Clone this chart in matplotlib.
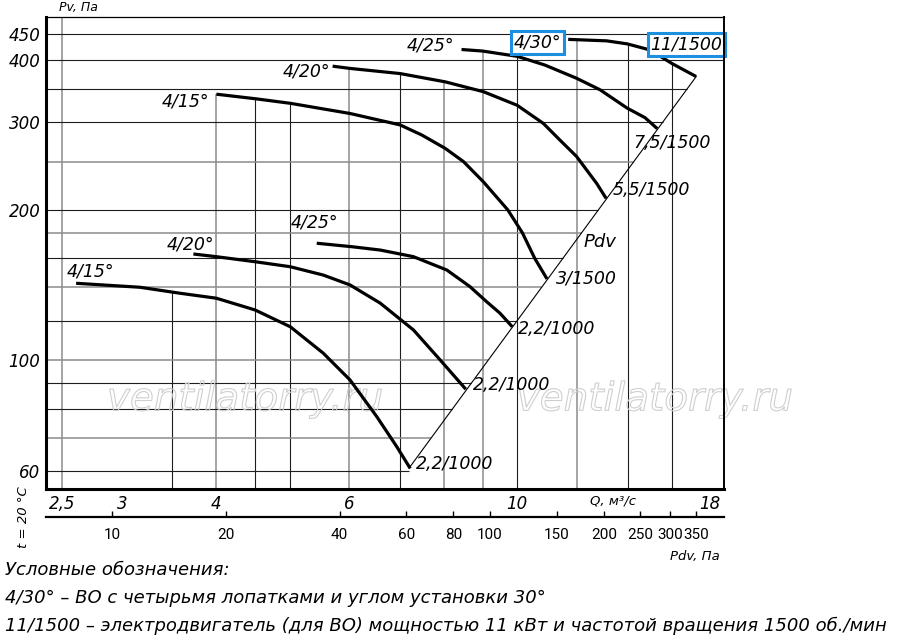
import numpy as np
import matplotlib
matplotlib.use("Agg")
import matplotlib.pyplot as plt
import matplotlib.patheffects as pe
from matplotlib.ticker import NullLocator

# Fan curves: Q, m3/s and Pv, Pa
# 1500 rpm
q_1500_15 = [4.00, 4.50, 5.01, 6.01, 7.00, 7.48, 8.03, 8.49, 9.02, 9.72, 10.16, 10.55, 10.95]
pv_1500_15 = [341, 334, 327, 312, 296, 282.5, 265.7, 250, 227.8, 200, 180, 160, 145.6]
q_1500_20 = [5.70, 6.01, 7.00, 8.03, 9.02, 10.0, 10.83, 11.39, 11.98, 12.74, 13.11]
pv_1500_20 = [388, 384, 375, 361, 345, 324, 298, 276, 256, 226, 211]
q_1500_25 = [8.44, 9.00, 10.0, 10.88, 11.98, 12.87, 13.97, 14.76, 15.32]
pv_1500_25 = [419, 416, 406, 390, 367, 348, 320, 306, 291]
q_1500_30 = [11.68, 13.13, 13.98, 14.99, 16.01, 17.24]
pv_1500_30 = [439, 436, 430, 418, 393, 370]
# 1000 rpm
q_1000_15 = [2.61, 3.17, 3.58, 4.00, 4.50, 5.01, 5.54, 6.01, 6.52, 6.93, 7.22]
pv_1000_15 = [142.7, 140.1, 136.3, 133.2, 126.2, 116.8, 103.4, 91.4, 77.2, 67.2, 60.8]
q_1000_20 = [3.73, 4.00, 4.50, 5.01, 5.54, 6.01, 6.59, 7.29, 7.91, 8.55]
pv_1000_20 = [163.3, 161.3, 157.6, 154.0, 148.2, 141.6, 130.2, 115.1, 100.2, 87.6]
q_1000_25 = [5.43, 6.04, 6.59, 7.29, 8.07, 8.66, 9.11, 9.49, 9.85]
pv_1000_25 = [171.6, 168.9, 166.3, 161.3, 151.7, 140.5, 131.1, 124.3, 116.8]

# Pdv line (dynamic pressure) through the curve ends
q_pdv = [7.20, 17.25]
p_pdv = [61, 370]
PDV_K = 1.18  # Pdv = k * Q^2, for the lower Pdv scale

curves = [
    (q_1500_15, pv_1500_15), (q_1500_20, pv_1500_20),
    (q_1500_25, pv_1500_25), (q_1500_30, pv_1500_30),
    (q_1000_15, pv_1000_15), (q_1000_20, pv_1000_20),
    (q_1000_25, pv_1000_25),
]

# Axes ticks / grid
q_ticks = [2.5, 3, 4, 6, 10, 18]
q_tick_labels = ["2,5", "3", "4", "6", "10", "18"]
pv_ticks = [60, 100, 200, 300, 400, 450]
pdv_ticks = [10, 20, 40, 60, 80, 100, 150, 200, 250, 300, 350]
q_grid = [2.5, 3.5, 4, 4.5, 5, 6, 7, 8, 9, 10, 12, 14, 16]
pv_grid = [60, 70, 80, 90, 100, 120, 140, 160, 180, 200, 250, 300, 350, 400, 450]
q_grid_gray = [2.5, 4, 6, 8, 9, 12]
pv_grid_gray = [70, 100, 140, 180, 250]

Q_LIM = (2.381, 18.77)
P_LIM = (55.3, 486.6)

# Curve labels: (text, Q, Pv)
angle_labels = [
    ("4/15°", 3.64, 330), ("4/20°", 5.27, 379), ("4/25°", 7.67, 426),
    ("4/15°", 2.73, 151), ("4/20°", 3.70, 171), ("4/25°", 5.40, 189),
]
motor_labels = [
    ("7,5/1500", 14.23, 272), ("5,5/1500", 13.39, 219), ("3/1500", 11.26, 146),
    ("2,2/1000", 10.02, 115.6), ("2,2/1000", 8.74, 89.3), ("2,2/1000", 7.35, 62.1),
]

BLUE = "#1b8fe0"
NARROW = ["Roboto", "DejaVu Sans"]
plt.rcParams["font.family"] = ["DejaVu Sans"]

fig = plt.figure(figsize=(9, 6.4), dpi=100)
ax = fig.add_axes([0.0511, 0.2359, 0.7533, 0.7375])
ax.set_xscale("log")
ax.set_yscale("log")
ax.set_xlim(*Q_LIM)
ax.set_ylim(*P_LIM)


def log_interp(x, xs, ys):
    return np.exp(np.interp(np.log(x), np.log(xs), np.log(ys)))


def top_at(q):
    # vertical grid lines stop at the highest curve above them
    tops = [log_interp(q, cq, cp) for cq, cp in curves if cq[0] <= q <= cq[-1]]
    return max(tops) if tops else P_LIM[1]


def right_at(p):
    # horizontal grid lines stop at the Pdv line
    if p > p_pdv[-1]:
        return Q_LIM[1]
    return log_interp(p, p_pdv, q_pdv)


for q in q_grid:
    gray = q in q_grid_gray
    ax.vlines(q, P_LIM[0], top_at(q), color="#8c8c8c" if gray else "#1e1e1e",
              lw=1.1 if gray else 0.8, zorder=1)
for p in pv_grid:
    gray = p in pv_grid_gray
    ax.hlines(p, Q_LIM[0], right_at(p), color="#8c8c8c" if gray else "#1e1e1e",
              lw=1.1 if gray else 0.8, zorder=1)

# watermark
for xf in (0.2935, 0.898):
    ax.text(xf, 0.19, "ventilatorry.ru", transform=ax.transAxes, ha="center",
            va="center", fontsize=28, style="italic", color="none", zorder=2,
            path_effects=[pe.Stroke(linewidth=0.8, foreground="#cfcfcf")])

for cq, cp in curves:
    ax.plot(cq, cp, color="black", lw=2.3, solid_capstyle="butt",
            solid_joinstyle="round", zorder=4)
ax.plot(q_pdv, p_pdv, color="black", lw=0.8, zorder=3)

for text, q, p in angle_labels:
    ax.text(q, p, text, ha="center", va="center", fontsize=12.5, style="italic", zorder=5)
for text, q, p in motor_labels:
    ax.text(q, p, text, ha="left", va="center", fontsize=12.5, style="italic", zorder=5)
ax.text(12.22, 172.6, "Pdv", ha="left", va="center", fontsize=13, style="italic", zorder=5)

box = dict(boxstyle="square,pad=0.15", fc="white", ec=BLUE, lw=2.2)
ax.text(10.65, 433, "4/30°", ha="center", va="center", fontsize=12.5,
        style="italic", bbox=box, zorder=6)
ax.text(16.75, 429, "11/1500", ha="center", va="center", fontsize=12.5,
        style="italic", bbox=box, zorder=6)

ax.xaxis.set_minor_locator(NullLocator())
ax.yaxis.set_minor_locator(NullLocator())
ax.set_xticks(q_ticks, labels=q_tick_labels)
ax.set_yticks(pv_ticks, labels=[str(v) for v in pv_ticks])
ax.tick_params(length=0, labelsize=12, pad=4)
for lab in ax.get_xticklabels() + ax.get_yticklabels():
    lab.set_style("italic")

for side, lw in (("left", 2.2), ("bottom", 2.2), ("top", 0.9), ("right", 1.4)):
    ax.spines[side].set_linewidth(lw)
    ax.spines[side].set_zorder(7)

# lower Pdv scale
ax2 = fig.add_axes([0.0511, 0.1925, 0.7533, 0.02])
ax2.set_xscale("log")
ax2.set_xlim(PDV_K * Q_LIM[0] ** 2, PDV_K * Q_LIM[1] ** 2)
ax2.set_ylim(0, 1)
ax2.patch.set_alpha(0)
for side in ("top", "left", "right"):
    ax2.spines[side].set_visible(False)
ax2.spines["bottom"].set_linewidth(1.6)
ax2.set_yticks([])
ax2.xaxis.set_minor_locator(NullLocator())
ax2.set_xticks(pdv_ticks, labels=[str(v) for v in pdv_ticks])
ax2.tick_params(axis="x", direction="in", length=4, width=1, labelsize=11, pad=8)
for lab in ax2.get_xticklabels():
    lab.set_family(NARROW)

fig.text(0.0875, 0.9875, "Pv, Па", ha="center", va="center", fontsize=9,
         style="italic")
fig.text(0.681, 0.217, "Q, м³/с", ha="center", va="center", fontsize=9.5,
         style="italic")
fig.text(0.772, 0.131, "Pdv, Па", ha="center", va="center", fontsize=9.5,
         style="italic")
fig.text(0.026, 0.192, "t = 20 °C", ha="center", va="center", fontsize=9.5,
         rotation=90, style="italic")

legend_lines = [
    "Условные обозначения:",
    "4/30° – ВО с четырьмя лопатками и углом установки 30°",
    "11/1500 – электродвигатель (для ВО) мощностью 11 кВт и частотой вращения 1500 об./мин",
]
for i, line in enumerate(legend_lines):
    fig.text(0.006, 0.109 - i * 0.0435, line, ha="left", va="center", fontsize=13,
             style="italic")

fig.savefig("out.png", dpi=100, facecolor="white")
